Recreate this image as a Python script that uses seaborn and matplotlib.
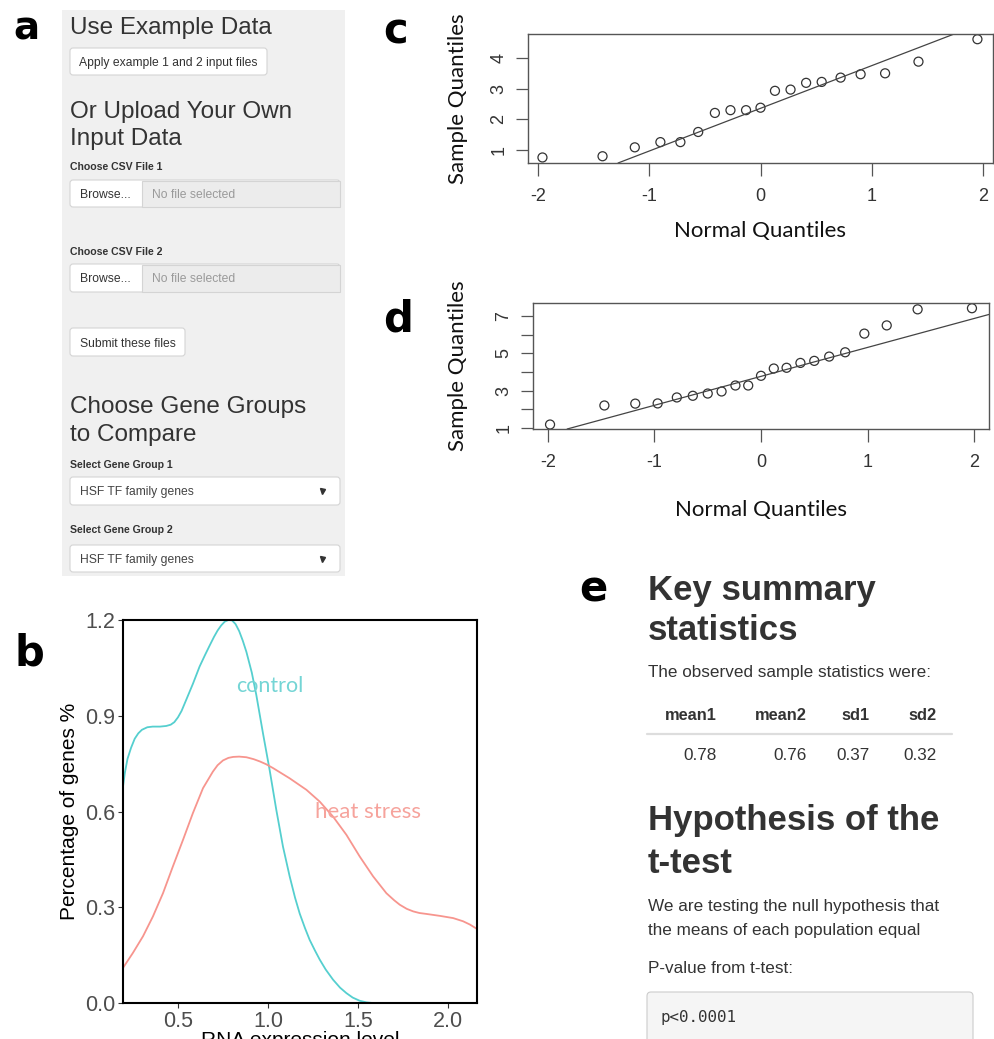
import matplotlib
matplotlib.use("Agg")
import matplotlib.pyplot as plt
import seaborn as sns
from matplotlib.patches import FancyBboxPatch, Rectangle

# ---------------- data ----------------
# panel c: QQ plot
c_theoretical = [-1.96, -1.42, -1.13, -0.90, -0.72, -0.56, -0.41, -0.27, -0.13, 0.00,
                 0.13, 0.27, 0.41, 0.55, 0.72, 0.90, 1.12, 1.42, 1.95]
c_sample = [0.76, 0.80, 1.09, 1.26, 1.26, 1.59, 2.21, 2.30, 2.30, 2.38,
            2.93, 2.97, 3.19, 3.22, 3.36, 3.47, 3.50, 3.88, 4.61]
c_line_intercept = 2.36
c_line_slope = 1.39
c_xticks = [-2, -1, 0, 1, 2]
c_xtick_labels = ["-2", "-1", "0", "1", "2"]
c_yticks = [1, 2, 3, 4]
c_ytick_labels = ["1", "2", "3", "4"]

# panel d: QQ plot
d_theoretical = [-1.98, -1.47, -1.18, -0.97, -0.79, -0.64, -0.50, -0.37, -0.24, -0.12, 0.00,
                 0.12, 0.24, 0.37, 0.50, 0.64, 0.79, 0.97, 1.18, 1.47, 1.98]
d_sample = [1.19, 2.21, 2.31, 2.32, 2.64, 2.73, 2.85, 2.96, 3.28, 3.28, 3.80,
            4.19, 4.23, 4.49, 4.60, 4.83, 5.06, 6.06, 6.50, 7.36, 7.42]
d_line_intercept = 3.77
d_line_slope = 1.55
d_xticks = [-2, -1, 0, 1, 2]
d_xtick_labels = ["-2", "-1", "0", "1", "2"]
d_yticks = [1, 2, 3, 4, 5, 6, 7]
d_ytick_labels = ["1", "", "3", "", "5", "", "7"]

# panel b: density curves
control_x = [0.195, 0.205, 0.22, 0.24, 0.26, 0.28, 0.30, 0.33, 0.36, 0.40, 0.435, 0.46,
             0.48, 0.50, 0.52, 0.546, 0.583, 0.62, 0.65, 0.676, 0.70, 0.72, 0.74, 0.76,
             0.78, 0.80, 0.82, 0.84, 0.86, 0.88, 0.91, 0.935, 0.972, 1.009, 1.046,
             1.083, 1.12, 1.15, 1.176, 1.205, 1.231, 1.26, 1.287, 1.32, 1.361, 1.40,
             1.435, 1.47, 1.509, 1.546, 1.58]
control_y = [0.678, 0.72, 0.765, 0.80, 0.828, 0.845, 0.856, 0.864, 0.866, 0.866, 0.868,
             0.872, 0.880, 0.895, 0.915, 0.95, 1.00, 1.054, 1.09, 1.12, 1.147, 1.167,
             1.183, 1.195, 1.2, 1.199, 1.187, 1.165, 1.135, 1.10, 1.035, 0.965, 0.845,
             0.73, 0.605, 0.49, 0.397, 0.33, 0.28, 0.235, 0.198, 0.165, 0.136, 0.105,
             0.073, 0.048, 0.031, 0.017, 0.007, 0.002, 0.0]
heat_x = [0.195, 0.25, 0.306, 0.361, 0.417, 0.472, 0.528, 0.583, 0.639, 0.694, 0.72,
          0.75, 0.78, 0.806, 0.84, 0.88, 0.92, 0.954, 0.99, 1.028, 1.12, 1.213, 1.287,
          1.361, 1.435, 1.509, 1.583, 1.657, 1.70, 1.731, 1.77, 1.806, 1.84, 1.88,
          1.954, 2.028, 2.083, 2.12, 2.16]
heat_y = [0.11, 0.157, 0.209, 0.271, 0.344, 0.428, 0.511, 0.595, 0.673, 0.725, 0.745,
          0.76, 0.768, 0.771, 0.772, 0.770, 0.764, 0.757, 0.748, 0.736, 0.704, 0.668,
          0.631, 0.584, 0.527, 0.459, 0.397, 0.344, 0.322, 0.308, 0.295, 0.287, 0.282,
          0.279, 0.273, 0.266, 0.256, 0.246, 0.232]
b_xticks = [0.5, 1.0, 1.5, 2.0]
b_xtick_labels = ["0.5", "1.0", "1.5", "2.0"]
b_yticks = [0.0, 0.3, 0.6, 0.9, 1.2]
b_ytick_labels = ["0.0", "0.3", "0.6", "0.9", "1.2"]
group_labels = ["control", "heat stress"]

# panel e: summary statistics
stat_names = ["mean1", "mean2", "sd1", "sd2"]
stat_values = [0.78, 0.76, 0.37, 0.32]
p_value_text = "p<0.0001"

# ---------------- style ----------------
sns.set_theme(style="white")
plt.rcParams['font.family'] = ['Liberation Sans', 'DejaVu Sans']
plt.rcParams['axes.unicode_minus'] = False

W, H = 995, 1039
fig = plt.figure(figsize=(W / 100, H / 100), dpi=100)
fig.patch.set_facecolor("white")


def px_rect(x0, y0, x1, y1):
    return [x0 / W, 1 - y1 / H, (x1 - x0) / W, (y1 - y0) / H]


# background axes in pixel coordinates for the UI panels
bg = fig.add_axes([0, 0, 1, 1])
bg.set_xlim(0, W)
bg.set_ylim(H, 0)
bg.axis("off")

TXT = "#333333"


def rbox(x0, y0, x1, y1, fc="white", ec="#d4d4d4", r=3, lw=0.8):
    bg.add_patch(FancyBboxPatch((x0, y0), x1 - x0, y1 - y0,
                                boxstyle=f"round,pad=0,rounding_size={r}",
                                fc=fc, ec=ec, lw=lw))


def t(x, y, s, size, color=TXT, weight="normal", ha="left", family=None):
    kw = {}
    if family is not None:
        kw["family"] = family
    bg.text(x, y, s, fontsize=size, color=color, weight=weight, ha=ha, va="baseline", **kw)


LETTER_FAM = ["DejaVu Sans"]
# ---------------- panel a ----------------
bg.add_patch(Rectangle((62, 10), 283, 566, fc="#f0f0f0", ec="none"))
t(26, 40, "a", 28, color="black", weight="bold", ha="center", family=LETTER_FAM)
t(70, 34, "Use Example Data", 17.5)
rbox(70, 48, 267, 75)
t(79, 66, "Apply example 1 and 2 input files", 8.7)
t(70, 118, "Or Upload Your Own", 17.5)
t(70, 145, "Input Data", 17.5)
for lab, ytxt, y0, y1 in [("Choose CSV File 1", 170, 180, 207), ("Choose CSV File 2", 255, 264, 292)]:
    t(70, ytxt, lab, 7.6, weight="bold")
    rbox(70, y0, 340, y1)
    bg.add_patch(Rectangle((142, y0 + 0.5), 197.5, y1 - y0 - 1, fc="#ececec", ec="#d4d4d4", lw=0.8))
    t(80, (y0 + y1) / 2 + 4, "Browse...", 8.7)
    t(152, (y0 + y1) / 2 + 4, "No file selected", 8.7, color="#9a9a9a")
rbox(70, 328, 185, 356)
t(80, 347, "Submit these files", 8.7)
t(70, 413, "Choose Gene Groups", 17.5)
t(70, 441, "to Compare", 17.5)
for lab, ytxt, y0, y1 in [("Select Gene Group 1", 468, 477, 505), ("Select Gene Group 2", 533, 545, 572)]:
    t(70, ytxt, lab, 7.6, weight="bold")
    rbox(70, y0, 340, y1)
    t(80, (y0 + y1) / 2 + 4, "HSF TF family genes", 8.7, color="#444444")
    bg.plot([322], [(y0 + y1) / 2], marker="v", ms=3.6, color="#333333")

# ---------------- panel e ----------------
t(593, 601, "e", 30, color="black", weight="bold", ha="center", family=LETTER_FAM)
t(648, 600, "Key summary", 25, weight="bold")
t(648, 640, "statistics", 25, weight="bold")
t(648, 677, "The observed sample statistics were:", 12.3)
stat_right = [717, 807, 870, 937]
for name, val, xr in zip(stat_names, stat_values, stat_right):
    t(xr, 720, name, 11.8, weight="bold", ha="right")
    t(xr, 760, f"{val:.2f}", 12.3, ha="right")
bg.plot([647, 952], [734, 734], color="#dddddd", lw=1.6)
t(648, 830, "Hypothesis of the", 25, weight="bold")
t(648, 873, "t-test", 25, weight="bold")
t(648, 911, "We are testing the null hypothesis that", 12.3)
t(648, 935, "the means of each population equal", 12.3)
t(648, 973, "P-value from t-test:", 12.3)
rbox(647, 992, 973, 1060, fc="#f5f5f5", ec="#cccccc", r=4)
t(661, 1022, p_value_text, 11.4, family=["DejaVu Sans Mono"])

# panel letters c, d, b
t(396, 44, "c", 30, color="black", weight="bold", ha="center", family=LETTER_FAM)
t(398, 331, "d", 30, color="black", weight="bold", ha="center", family=LETTER_FAM)
t(29, 665, "b", 30, color="black", weight="bold", ha="center", family=LETTER_FAM)

LABEL_FAM = ["Lato", "DejaVu Sans"]


# ---------------- panels c & d ----------------
def qq_panel(rect, xs, ys, icpt, slope, xlim, ylim, xt, xtl, yt, ytl, ylab_x, xlab_y):
    ax = fig.add_axes(rect)
    sns.scatterplot(x=xs, y=ys, ax=ax, marker="o", s=42, facecolors="none",
                    edgecolors="#333333", linewidths=0.9, legend=False)
    ax.axline((0, icpt), slope=slope, color="#444444", lw=0.9)
    ax.set_xlim(*xlim)
    ax.set_ylim(*ylim)
    ax.set_xticks(xt)
    ax.set_xticklabels(xtl)
    ax.set_yticks(yt)
    ax.set_yticklabels(ytl)
    for sp in ax.spines.values():
        sp.set_color("#555555")
        sp.set_linewidth(1.0)
    ax.tick_params(axis="both", which="both", bottom=True, left=True, direction="out",
                   length=9, width=0.9, color="#555555", labelsize=13, labelcolor="#333333")
    ax.tick_params(axis="x", pad=9)
    ax.tick_params(axis="y", pad=6, labelrotation=90)
    for lab in ax.get_yticklabels():
        lab.set_va("center")
    ax.set_xlabel("Normal Quantiles", fontsize=16, family=LABEL_FAM, color="#111111")
    ax.set_ylabel("Sample Quantiles", fontsize=16, family=LABEL_FAM, color="#111111")
    ax.xaxis.set_label_coords(0.5, xlab_y)
    ax.xaxis.label.set_va("center")
    ax.yaxis.set_label_coords(ylab_x, 0.5)
    ax.yaxis.label.set_va("center")
    ax.set_facecolor("white")
    return ax


qq_panel(px_rect(528, 34, 993, 163), c_theoretical, c_sample, c_line_intercept, c_line_slope,
         (-2.09, 2.09), (0.58, 4.78), c_xticks, c_xtick_labels, c_yticks, c_ytick_labels,
         -0.15, -0.527)
qq_panel(px_rect(533, 303, 989, 429), d_theoretical, d_sample, d_line_intercept, d_line_slope,
         (-2.14, 2.14), (0.95, 7.7), d_xticks, d_xtick_labels, d_yticks, d_ytick_labels,
         -0.164, -0.643)

# ---------------- panel b ----------------
CTRL = "#55cfcf"
HEAT = "#f7958e"
axb = fig.add_axes(px_rect(123, 620, 477, 1003))
sns.lineplot(x=control_x, y=control_y, ax=axb, color=CTRL, lw=1.3)
sns.lineplot(x=heat_x, y=heat_y, ax=axb, color=HEAT, lw=1.3)
axb.set_xlim(0.195, 2.16)
axb.set_ylim(0, 1.2)
axb.set_xticks(b_xticks)
axb.set_xticklabels(b_xtick_labels)
axb.set_yticks(b_yticks)
axb.set_yticklabels(b_ytick_labels)
for sp in axb.spines.values():
    sp.set_color("black")
    sp.set_linewidth(1.5)
axb.tick_params(axis="both", bottom=True, left=True, direction="out", length=3.5,
                width=0.8, color="#333333", labelsize=15.5, labelcolor="#4d4d4d", pad=2)
axb.set_xlabel("RNA expression level", fontsize=15, color="black")
axb.set_ylabel("Percentage of genes %", fontsize=15, color="black")
axb.xaxis.set_label_coords(0.5, -0.099)
axb.xaxis.label.set_va("center")
axb.yaxis.set_label_coords(-0.15, 0.5)
axb.yaxis.label.set_va("center")
axb.text(0.824, 0.975, group_labels[0], color="#74d5d5", fontsize=15.5, family=LABEL_FAM,
         ha="left", va="baseline")
axb.text(1.261, 0.58, group_labels[1], color="#f6a39c", fontsize=16, family=LABEL_FAM,
         ha="left", va="baseline")

fig.savefig("out.png", dpi=100)
